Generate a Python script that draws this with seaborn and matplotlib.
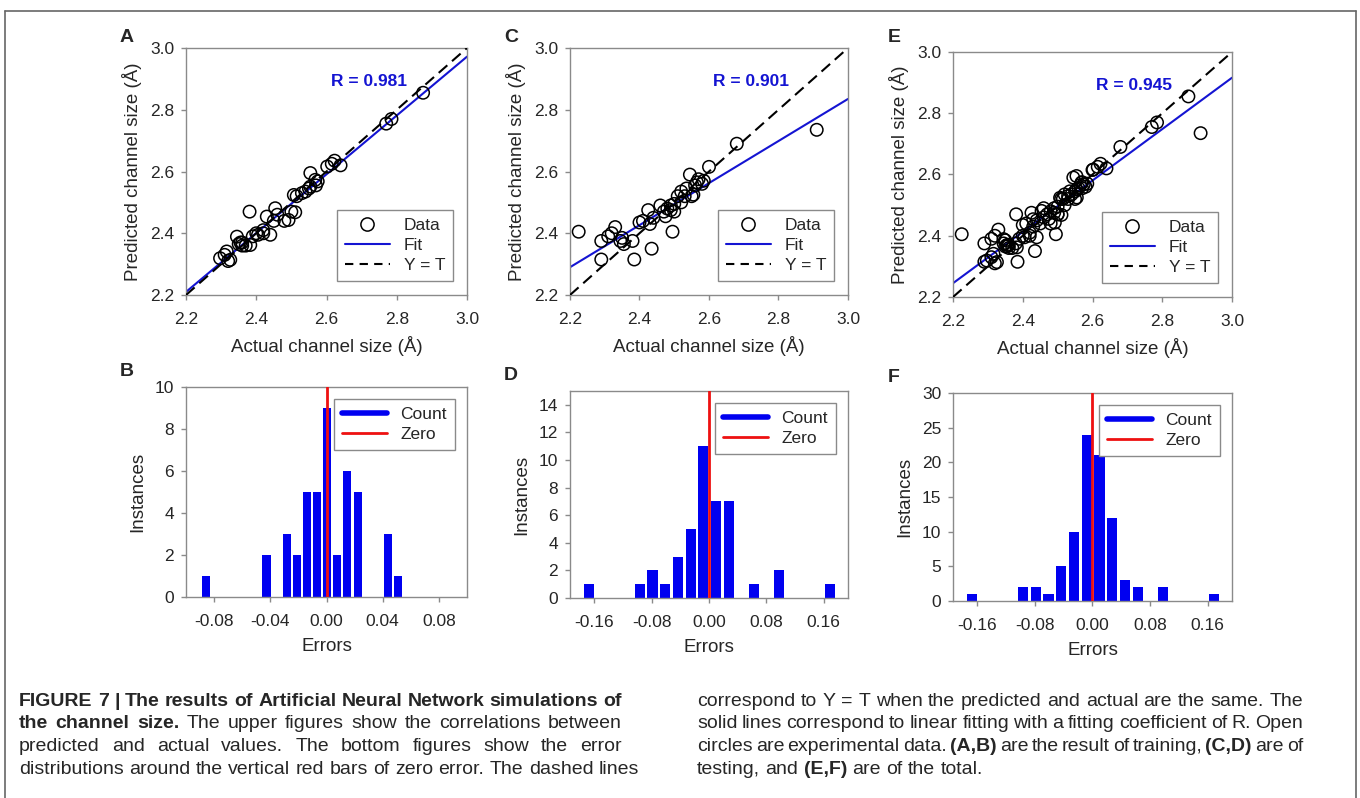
import numpy as np
import pandas as pd
import matplotlib
matplotlib.use("Agg")
import matplotlib.pyplot as plt
import seaborn as sns
from matplotlib.lines import Line2D
from matplotlib import font_manager

# ---- data ----
# (A) training: actual vs predicted channel size (Angstrom)
A_ACTUAL = [2.297, 2.310, 2.316, 2.326, 2.320, 2.345, 2.350, 2.355, 2.360, 2.370,
            2.383, 2.381, 2.390, 2.400, 2.405, 2.420, 2.430, 2.440, 2.450, 2.454,
            2.460, 2.480, 2.492, 2.500, 2.511, 2.507, 2.515, 2.530, 2.540, 2.550,
            2.554, 2.554, 2.568, 2.575, 2.570, 2.602, 2.615, 2.623, 2.640, 2.770,
            2.785, 2.875, 2.420, 2.360]
A_PRED = [2.319, 2.330, 2.341, 2.314, 2.310, 2.389, 2.365, 2.370, 2.360, 2.360,
          2.362, 2.470, 2.390, 2.400, 2.395, 2.400, 2.454, 2.395, 2.440, 2.481,
          2.460, 2.440, 2.443, 2.470, 2.468, 2.524, 2.520, 2.530, 2.535, 2.545,
          2.551, 2.595, 2.573, 2.568, 2.555, 2.616, 2.625, 2.635, 2.620, 2.755,
          2.770, 2.855, 2.410, 2.370]

# (C) testing
C_ACTUAL = [2.225, 2.290, 2.290, 2.310, 2.330, 2.345, 2.350, 2.355, 2.380, 2.385,
            2.400, 2.410, 2.425, 2.430, 2.435, 2.440, 2.460, 2.475, 2.480, 2.490,
            2.490, 2.495, 2.500, 2.510, 2.520, 2.530, 2.535, 2.545, 2.550, 2.555,
            2.565, 2.570, 2.580, 2.585, 2.600, 2.680, 2.910, 2.520, 2.470, 2.560,
            2.500, 2.320]
C_PRED = [2.405, 2.315, 2.375, 2.390, 2.420, 2.375, 2.385, 2.365, 2.375, 2.315,
          2.435, 2.440, 2.475, 2.430, 2.350, 2.450, 2.490, 2.455, 2.480, 2.475,
          2.490, 2.405, 2.470, 2.520, 2.535, 2.520, 2.545, 2.590, 2.520, 2.525,
          2.565, 2.575, 2.560, 2.570, 2.615, 2.690, 2.735, 2.500, 2.470, 2.555,
          2.495, 2.400]

# (E) total = training + testing
E_ACTUAL = A_ACTUAL + C_ACTUAL
E_PRED = A_PRED + C_PRED

# fitted line values at x = 2.2 and x = 3.0
FIT_A = [2.21, 2.972]
FIT_C = [2.29, 2.835]
FIT_E = [2.245, 2.916]
R_LABELS = ["R = 0.981", "R = 0.901", "R = 0.945"]

# error histograms: bar centres and counts
B_CENTERS = [-0.0859, -0.0427, -0.0283, -0.0211, -0.0139, -0.0067, 0.0005,
             0.0077, 0.0149, 0.0221, 0.0437, 0.0509]
B_COUNTS = [1, 2, 3, 2, 5, 5, 9, 2, 6, 5, 3, 1]
B_BIN = 0.0072

D_CENTERS = [-0.1673, -0.0965, -0.0788, -0.0611, -0.0434, -0.0257, -0.0080,
             0.0097, 0.0274, 0.0628, 0.0982, 0.1690]
D_COUNTS = [1, 1, 2, 1, 3, 5, 11, 7, 7, 1, 2, 1]

F_CENTERS = [-0.1673, -0.0965, -0.0788, -0.0611, -0.0434, -0.0257, -0.0080,
             0.0097, 0.0274, 0.0451, 0.0628, 0.0982, 0.1690]
F_COUNTS = [1, 2, 2, 1, 5, 10, 24, 21, 12, 3, 2, 2, 1]
DF_BIN = 0.0177

SCATTER_TICKS = [2.2, 2.4, 2.6, 2.8, 3.0]
B_XTICKS = [-0.08, -0.04, 0.0, 0.04, 0.08]
B_XLABELS = ["-0.08", "-0.04", "0.00", "0.04", "0.08"]
DF_XTICKS = [-0.16, -0.08, 0.0, 0.08, 0.16]
DF_XLABELS = ["-0.16", "-0.08", "0.00", "0.08", "0.16"]

CAPTION_LEFT = [
    [("FIGURE 7 | The results of Artificial Neural Network simulations of", True)],
    [("the channel size.", True), ("The upper figures show the correlations between", False)],
    [("predicted and actual values. The bottom figures show the error", False)],
    [("distributions around the vertical red bars of zero error. The dashed lines", False)],
]
CAPTION_RIGHT = [
    [("correspond to Y = T when the predicted and actual are the same. The", False)],
    [("solid lines correspond to linear fitting with a fitting coefficient of R. Open", False)],
    [("circles are experimental data.", False), ("(A,B)", True),
     ("are the result of training,", False), ("(C,D)", True), ("are of", False)],
    [("testing, and", False), ("(E,F)", True), ("are of the total.", False)],
]

# ---- style ----
BLUE = "#0000f0"
FIT_BLUE = "#1414d2"
RED = "#ee1111"
FRAME = "#8a8a8a"

sns.set_style("white", {"axes.edgecolor": FRAME})
plt.rcParams["font.family"] = ["Liberation Sans", "DejaVu Sans"]

names = {f.name for f in font_manager.fontManager.ttflist}
CAP_FONT = "Liberation Sans Narrow" if "Liberation Sans Narrow" in names else "Liberation Sans"

W, H = 1360, 798
fig = plt.figure(figsize=(W / 100, H / 100), dpi=100)


def rect(l, t, r, b):
    return [l / W, 1 - b / H, (r - l) / W, (b - t) / H]


def style_axes(ax):
    for s in ax.spines.values():
        s.set_visible(True)
        s.set_color(FRAME)
        s.set_linewidth(1.0)
    ax.tick_params(axis="both", which="both", direction="out", length=3.5,
                   width=1, color=FRAME, labelsize=12.5, bottom=True, left=True,
                   top=False, right=False)
    ax.tick_params(axis="x", pad=9)
    ax.tick_params(axis="y", pad=5)


def scatter_panel(ax, actual, pred, fit, rlabel):
    df = pd.DataFrame({"actual": actual, "pred": pred})
    lims = [2.2, 3.0]
    ax.plot(lims, fit, color=FIT_BLUE, lw=1.5, zorder=2)
    ax.plot(lims, lims, color="black", lw=1.5, ls=(0, (5.5, 3.0)), zorder=3)
    sns.scatterplot(data=df, x="actual", y="pred", ax=ax, s=80, marker="o",
                    facecolors="none", edgecolor="black", linewidth=1.1,
                    legend=False, zorder=4)
    ax.set_xlim(lims)
    ax.set_ylim(lims)
    ax.set_xticks(SCATTER_TICKS)
    ax.set_yticks(SCATTER_TICKS)
    ax.set_xlabel("Actual channel size (Å)", fontsize=13.5, labelpad=6)
    ax.set_ylabel("Predicted channel size (Å)", fontsize=13.5, labelpad=6)
    ax.text(0.65, 0.865, rlabel, transform=ax.transAxes, color=FIT_BLUE,
            fontsize=12.5, fontweight="bold", ha="center", va="center")
    handles = [
        Line2D([], [], marker="o", ls="none", mfc="none", mec="black", ms=9.5, mew=1.1),
        Line2D([], [], color=FIT_BLUE, lw=1.5),
        Line2D([], [], color="black", lw=1.5, ls=(0, (4, 3))),
    ]
    leg = ax.legend(handles, ["Data", "Fit", "Y = T"], loc="lower right",
                    fontsize=12.5, frameon=True, fancybox=False, framealpha=1,
                    edgecolor=FRAME, handlelength=2.6, labelspacing=0.3,
                    borderaxespad=0.8, handletextpad=0.8, borderpad=0.45)
    leg.get_frame().set_linewidth(1.0)
    style_axes(ax)


def hist_panel(ax, centers, counts, width, xlim, xticks, xlabels, ylim, yticks):
    ax.bar(centers, counts, width=0.8 * width, color=BLUE, edgecolor="none", zorder=2)
    ax.axvline(0, color=RED, lw=2, zorder=5)
    ax.set_xlim(xlim)
    ax.set_ylim(ylim)
    ax.set_xticks(xticks)
    ax.set_xticklabels(xlabels)
    ax.set_yticks(yticks)
    ax.set_xlabel("Errors", fontsize=13.5, labelpad=6)
    ax.set_ylabel("Instances", fontsize=13.5, labelpad=6)
    handles = [Line2D([], [], color=BLUE, lw=4), Line2D([], [], color=RED, lw=2)]
    leg = ax.legend(handles, ["Count", "Zero"], loc="upper right", fontsize=12.5,
                    frameon=True, fancybox=False, framealpha=1, edgecolor=FRAME,
                    handlelength=2.6, labelspacing=0.3, borderaxespad=0.7,
                    handletextpad=0.8, borderpad=0.45)
    leg.get_frame().set_linewidth(1.0)
    style_axes(ax)


ax_a = fig.add_axes(rect(186, 48, 467, 295))
ax_c = fig.add_axes(rect(570, 48, 848, 295))
ax_e = fig.add_axes(rect(953, 52, 1232, 297))
ax_b = fig.add_axes(rect(186, 387, 467, 597))
ax_d = fig.add_axes(rect(570, 391, 848, 598))
ax_f = fig.add_axes(rect(953, 393, 1232, 601))

scatter_panel(ax_a, A_ACTUAL, A_PRED, FIT_A, R_LABELS[0])
scatter_panel(ax_c, C_ACTUAL, C_PRED, FIT_C, R_LABELS[1])
scatter_panel(ax_e, E_ACTUAL, E_PRED, FIT_E, R_LABELS[2])

hist_panel(ax_b, B_CENTERS, B_COUNTS, B_BIN, (-0.1, 0.1), B_XTICKS, B_XLABELS,
           (0, 10), [0, 2, 4, 6, 8, 10])
hist_panel(ax_d, D_CENTERS, D_COUNTS, DF_BIN, (-0.194, 0.194), DF_XTICKS, DF_XLABELS,
           (0, 15), [0, 2, 4, 6, 8, 10, 12, 14])
hist_panel(ax_f, F_CENTERS, F_COUNTS, DF_BIN, (-0.194, 0.194), DF_XTICKS, DF_XLABELS,
           (0, 30), [0, 5, 10, 15, 20, 25, 30])

# panel letters
for letter, x, y in [("A", 127, 37), ("C", 511, 37), ("E", 894, 37),
                     ("B", 127, 372), ("D", 511, 376), ("F", 894, 378)]:
    fig.text(x / W, 1 - y / H, letter, fontsize=14, fontweight="bold",
             ha="center", va="center")

# outer frame
for xs, ys in [([5, 5], [11, H]), ([5, 1356], [11, 11]), ([1356, 1356], [11, H])]:
    fig.add_artist(Line2D([x / W for x in xs], [1 - y / H for y in ys],
                          color="#666666", lw=1.2))

# caption, justified columns
renderer = fig.canvas.get_renderer()


def text_width(s, size, bold):
    t = fig.text(0, 0, s, fontsize=size, family=CAP_FONT,
                 fontweight="bold" if bold else "normal")
    w = t.get_window_extent(renderer).width
    t.remove()
    return w


def draw_caption(lines, x0, x1, y0, step, size):
    space = text_width("n n", size, False) - text_width("nn", size, False)
    for i, segs in enumerate(lines):
        words = [(w, b) for text, b in segs for w in text.split()]
        widths = [text_width(w, size, b) for w, b in words]
        last = i == len(lines) - 1
        gap = space if last else (x1 - x0 - sum(widths)) / (len(words) - 1)
        x = x0
        y = y0 + i * step
        for (w, b), wd in zip(words, widths):
            fig.text(x / W, 1 - y / H, w, fontsize=size, family=CAP_FONT,
                     fontweight="bold" if b else "normal", ha="left", va="baseline")
            x += wd + gap


COL_LEFT = (19, 622)
COL_RIGHT = (697, 1303)

cap_size = 14.0
while cap_size > 7:
    ok = True
    for lines, (c0, c1) in [(CAPTION_LEFT, COL_LEFT), (CAPTION_RIGHT, COL_RIGHT)]:
        for segs in lines[:-1]:
            words = [(w, b) for text, b in segs for w in text.split()]
            natural = sum(text_width(w, cap_size, b) for w, b in words)
            if natural + 3.0 * (len(words) - 1) > c1 - c0:
                ok = False
    if ok:
        break
    cap_size -= 0.25

draw_caption(CAPTION_LEFT, COL_LEFT[0], COL_LEFT[1], 706, 22.5, cap_size)
draw_caption(CAPTION_RIGHT, COL_RIGHT[0], COL_RIGHT[1], 706, 22.5, cap_size)

fig.savefig("out.png", dpi=100)
